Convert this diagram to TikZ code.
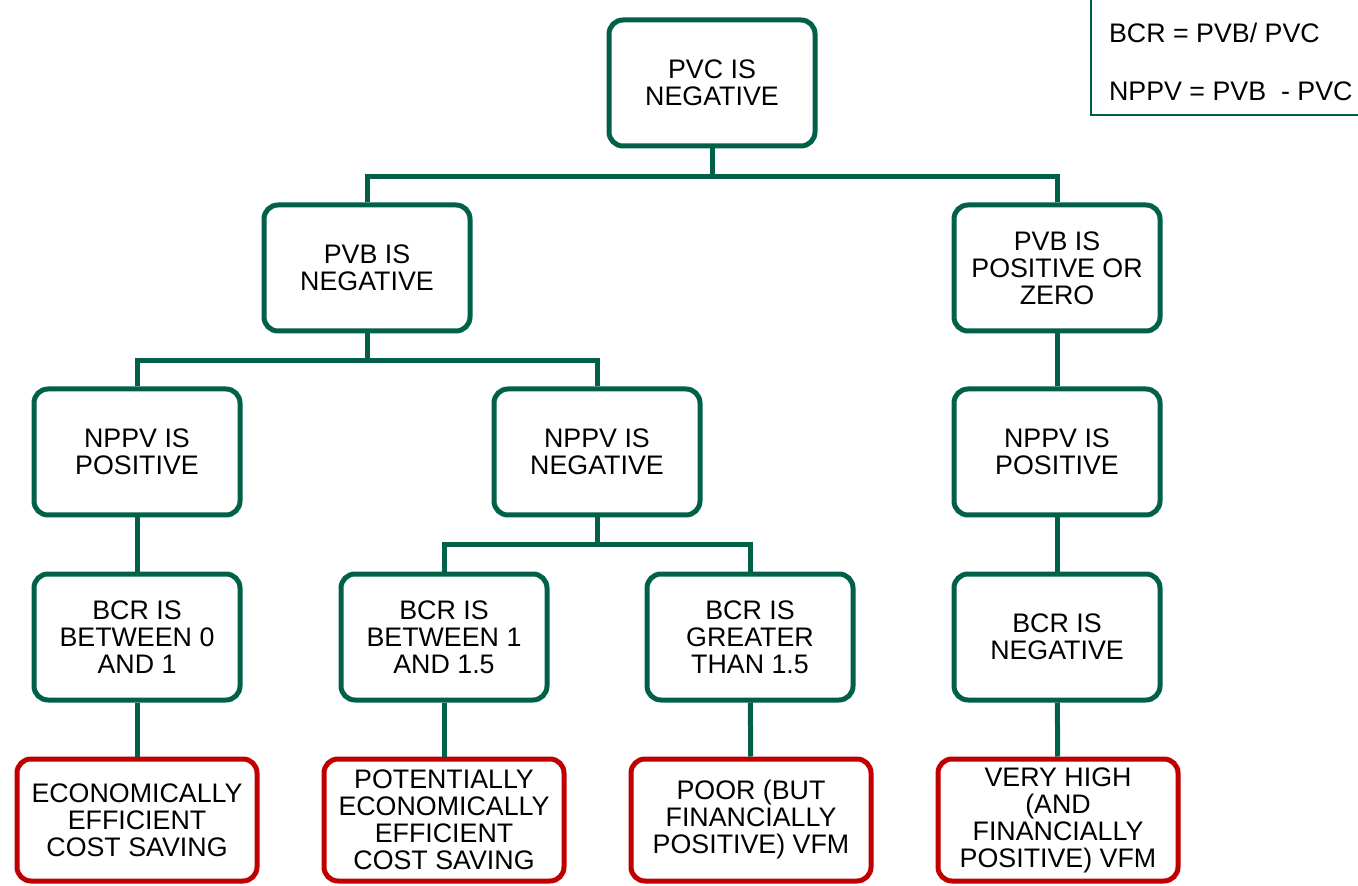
\documentclass[tikz,border=0pt]{standalone}
\usepackage{fontspec}
\setmainfont{Liberation Sans}
\definecolor{boxgreen}{RGB}{0,96,72}
\definecolor{boxred}{RGB}{192,0,0}

\begin{document}
\begin{tikzpicture}[x=0.5pt,y=-0.5pt,
    test/.style={draw=boxgreen, line width=2.5pt, rounded corners=7pt, fill=white,
      minimum width=103pt, minimum height=63pt, align=center,
      font=\fontsize{13.4}{13.5}\selectfont},
    result/.style={test, draw=boxred, minimum width=120pt, minimum height=61pt},
    link/.style={draw=boxgreen, line width=2.5pt},
    key/.style={draw=boxgreen, line width=0.8pt, align=left, minimum width=140pt,
      minimum height=59pt, inner xsep=9pt, font=\fontsize{13.4}{13.5}\selectfont}]
    \useasboundingbox (0,0) rectangle (1358,886);

    % Tree nodes
    \node [test] (pvc) at (712,83) {PVC IS\\NEGATIVE};
    \node [test] (pvbneg) at (367,268) {PVB IS\\NEGATIVE};
    \node [test] (pvbpos) at (1057,268) {PVB IS\\POSITIVE OR\\ZERO};
    \node [test] (nppvpos) at (137,452) {NPPV IS\\POSITIVE};
    \node [test] (nppvneg) at (597,452) {NPPV IS\\NEGATIVE};
    \node [test] (nppvposb) at (1057,452) {NPPV IS\\POSITIVE};
    \node [test] (bcrlow) at (137,637) {BCR IS\\BETWEEN 0\\AND 1};
    \node [test] (bcrmid) at (444,637) {BCR IS\\BETWEEN 1\\AND 1.5};
    \node [test] (bcrhigh) at (750,637) {BCR IS\\GREATER\\THAN 1.5};
    \node [test] (bcrneg) at (1057,637) {BCR IS\\NEGATIVE};

    % Outcomes
    \node [result] (costsave) at (137,820) {ECONOMICALLY\\EFFICIENT\\COST SAVING};
    \node [result] (potsave) at (444,820) {POTENTIALLY\\ECONOMICALLY\\EFFICIENT\\COST SAVING};
    \node [result] (poorvfm) at (751,820) {POOR (BUT\\FINANCIALLY\\POSITIVE) VFM};
    \node [result] (highvfm) at (1058,820) {VERY HIGH\\(AND\\FINANCIALLY\\POSITIVE) VFM};

    % Legend
    \node [key, anchor=north west] (legend) at (1090,-4) {\rule{0pt}{16pt}BCR = PVB/ PVC\\[15.5pt]NPPV = PVB\ \ - PVC};

    % Connectors
    \draw [link] (pvc.south) -- ++(0,28) -| (pvbneg.north);
    \draw [link] (pvc.south) -- ++(0,28) -| (pvbpos.north);
    \draw [link] (pvbneg.south) -- ++(0,27) -| (nppvpos.north);
    \draw [link] (pvbneg.south) -- ++(0,27) -| (nppvneg.north);
    \draw [link] (nppvneg.south) -- ++(0,27) -| (bcrmid.north);
    \draw [link] (nppvneg.south) -- ++(0,27) -| (bcrhigh.north);
    \draw [link] (pvbpos) -- (nppvposb);
    \draw [link] (nppvpos) -- (bcrlow);
    \draw [link] (nppvposb) -- (bcrneg);
    \draw [link] (bcrlow) -- (costsave);
    \draw [link] (bcrmid) -- (potsave);
    \draw [link] (bcrhigh) -- (poorvfm);
    \draw [link] (bcrneg) -- (highvfm);

\end{tikzpicture}
\end{document}
